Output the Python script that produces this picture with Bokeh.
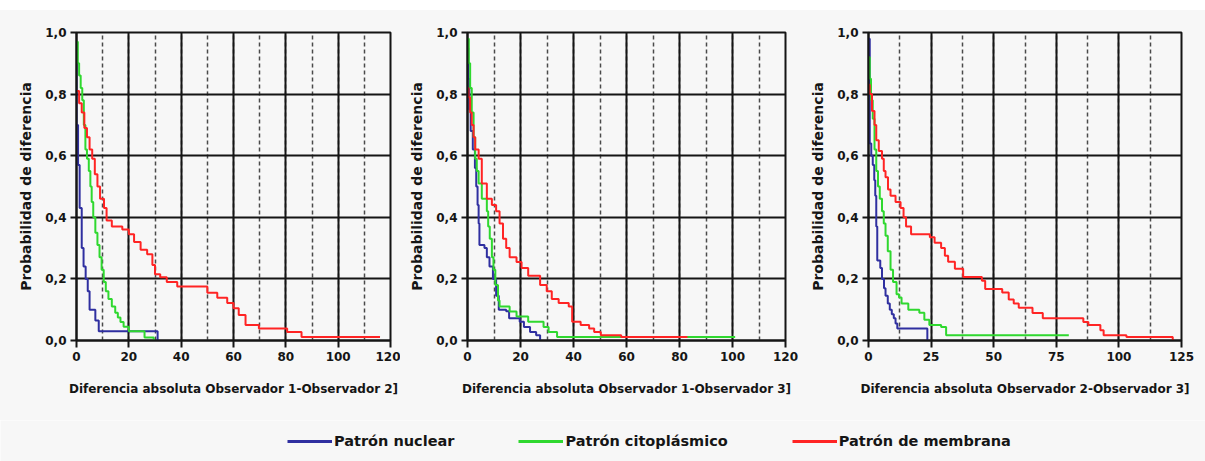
from bokeh.plotting import figure
from bokeh.models import (Range1d, SingleIntervalTicker, CustomJSTickFormatter,
                          Legend, LegendItem, Spacer)
from bokeh.layouts import row, column
from bokeh.embed import file_html
from bokeh.resources import INLINE

# ---------------- data ----------------
series_names = ["Patrón nuclear", "Patrón citoplásmico", "Patrón de membrana"]
series_colors = ["#2f2fa0", "#2fd82f", "#ff2424"]

x_titles = ["Diferencia absoluta Observador 1-Observador 2]",
            "Diferencia absoluta Observador 1-Observador 3]",
            "Diferencia absoluta Observador 2-Observador 3]"]
y_title = "Probabilidad de diferencia"
x_max = [120, 120, 125]
x_tick_step = [20, 20, 25]

# Panel 1 (Observador 1 - Observador 2)
p1_nuclear_x = [0, 0, 0.6, 1.2, 2, 2.7, 3.5, 4.3, 5, 7.2, 8.5, 31]
p1_nuclear_y = [0.97, 0.70, 0.57, 0.43, 0.30, 0.24, 0.20, 0.16, 0.10, 0.065, 0.03, 0.0]
p1_cito_x = [0, 0.5, 1, 1.6, 2.2, 2.8, 3.4, 4, 4.7, 5.3, 5.8, 6.4, 7.2, 8, 8.8, 9.6,
             10.4, 11.2, 12.2, 13.5, 14.8, 15.8, 16.8, 18, 20, 26, 29.5]
p1_cito_y = [0.97, 0.90, 0.86, 0.82, 0.78, 0.70, 0.62, 0.59, 0.55, 0.50, 0.45, 0.40, 0.35,
             0.31, 0.27, 0.23, 0.19, 0.16, 0.135, 0.11, 0.09, 0.075, 0.06, 0.045, 0.03, 0.01, 0.0]
p1_memb_x = [0, 1, 2, 3, 4, 5, 6, 7, 8, 9, 10.5, 11.5, 13.5, 17.5, 20, 22, 24.5, 27, 29, 30,
             32, 34.5, 38.5, 50, 53.8, 57.6, 60, 62, 64.6, 69.7, 80.5, 86, 116]
p1_memb_y = [0.81, 0.77, 0.74, 0.69, 0.66, 0.62, 0.59, 0.54, 0.50, 0.46, 0.43, 0.39, 0.37,
             0.36, 0.345, 0.32, 0.295, 0.28, 0.245, 0.215, 0.205, 0.19, 0.175, 0.155, 0.139,
             0.122, 0.105, 0.083, 0.05, 0.039, 0.028, 0.011, 0.011]

# Panel 2 (Observador 1 - Observador 3)
p2_nuclear_x = [0, 0.3, 0.7, 1.2, 2, 2.8, 3.3, 3.8, 4.2, 4.5, 6.4, 7.3, 8.3, 9.6, 10.8,
                11.8, 14.6, 15.7, 19.7, 21.3, 23.6, 25.9, 27.4]
p2_nuclear_y = [0.95, 0.85, 0.75, 0.68, 0.62, 0.56, 0.50, 0.44, 0.38, 0.31, 0.30, 0.27,
                0.24, 0.20, 0.145, 0.10, 0.095, 0.072, 0.061, 0.044, 0.028, 0.017, 0.0]
p2_cito_x = [0, 0.5, 1, 1.6, 2.3, 2.9, 3.5, 4.2, 5.4, 7.3, 7.8, 8.4, 9.2, 9.8, 10.5, 11.5,
             12.1, 15.9, 18.5, 22.9, 28.7, 30.6, 33.8, 101]
p2_cito_y = [0.98, 0.90, 0.82, 0.74, 0.66, 0.59, 0.55, 0.51, 0.46, 0.42, 0.37, 0.33, 0.27,
             0.23, 0.18, 0.13, 0.11, 0.094, 0.078, 0.061, 0.044, 0.028, 0.011, 0.011]
p2_memb_x = [0, 0.4, 1, 1.6, 2.3, 2.9, 4.2, 5.4, 7.3, 9.2, 10.8, 12.1, 13.4, 14.6, 15.9,
             18.5, 20.4, 22.9, 27.4, 29.9, 31.8, 34.4, 38.2, 39.5, 42.7, 45.9, 47.8, 50.3, 58, 83]
p2_memb_y = [0.82, 0.79, 0.74, 0.70, 0.66, 0.62, 0.59, 0.51, 0.46, 0.44, 0.42, 0.38, 0.33,
             0.30, 0.27, 0.255, 0.235, 0.21, 0.18, 0.16, 0.135, 0.122, 0.11, 0.061, 0.05,
             0.039, 0.028, 0.017, 0.011, 0.011]

# Panel 3 (Observador 2 - Observador 3)
p3_nuclear_x = [0, 0.5, 1.1, 1.7, 2.3, 2.7, 3.1, 3.5, 4.7, 5.4, 6.2, 6.8, 7.7, 8.5, 9.3,
                10.1, 10.8, 11.5, 23.5]
p3_nuclear_y = [0.98, 0.64, 0.60, 0.57, 0.52, 0.47, 0.37, 0.26, 0.235, 0.20, 0.17, 0.145,
                0.12, 0.10, 0.085, 0.072, 0.055, 0.039, 0.0]
p3_cito_x = [0, 0.5, 1, 1.7, 2.4, 3.1, 3.8, 4.5, 5.4, 6.1, 6.8, 7.7, 8.8, 9.8, 11.2, 12.2,
             13.2, 15.9, 20.3, 22.3, 24.3, 29, 31, 80]
p3_cito_y = [0.92, 0.85, 0.78, 0.72, 0.62, 0.55, 0.50, 0.46, 0.42, 0.38, 0.34, 0.29, 0.23,
             0.19, 0.15, 0.14, 0.12, 0.10, 0.09, 0.067, 0.05, 0.044, 0.017, 0.017]
p3_memb_x = [0, 0.5, 1.4, 2.4, 3.1, 4.1, 5.4, 6.1, 6.8, 7.8, 8.8, 10.8, 12.8, 14, 15, 17,
             24.5, 26.4, 29, 30.5, 31.8, 34.5, 37.8, 45.3, 46.6, 53.4, 56, 58, 60, 65.5,
             69.6, 85.8, 87.8, 92.6, 93.9, 103, 121.5]
p3_memb_y = [0.83, 0.80, 0.745, 0.70, 0.65, 0.615, 0.59, 0.55, 0.53, 0.49, 0.47, 0.45, 0.43,
             0.40, 0.37, 0.345, 0.335, 0.317, 0.30, 0.275, 0.256, 0.233, 0.206, 0.194, 0.167,
             0.156, 0.133, 0.12, 0.106, 0.089, 0.072, 0.06, 0.05, 0.033, 0.017, 0.011, 0.0]

panels_data = [
    [(p1_nuclear_x, p1_nuclear_y), (p1_cito_x, p1_cito_y), (p1_memb_x, p1_memb_y)],
    [(p2_nuclear_x, p2_nuclear_y), (p2_cito_x, p2_cito_y), (p2_memb_x, p2_memb_y)],
    [(p3_nuclear_x, p3_nuclear_y), (p3_cito_x, p3_cito_y), (p3_memb_x, p3_memb_y)],
]

# ---------------- style ----------------
BG = "#f7f7f7"
INK = "#151515"
FONT = "DejaVu Sans"
# (left border, frame width, right border)
geom = [(66, 314, 10), (67, 318, 15), (68, 313, 24)]
TOP, FRAME_H, BOTTOM = 22, 308, 80

fmt = CustomJSTickFormatter(code="return tick.toFixed(1).replace('.', ',');")


def make_panel(i):
    left, fw, right = geom[i]
    p = figure(width=left + fw + right, height=TOP + FRAME_H + BOTTOM,
               x_range=Range1d(0, x_max[i]), y_range=Range1d(0, 1.0),
               output_backend="svg", toolbar_location=None,
               min_border_left=left, min_border_right=right,
               min_border_top=TOP, min_border_bottom=BOTTOM)
    p.background_fill_color = BG
    p.border_fill_color = BG
    p.outline_line_color = INK
    p.outline_line_width = 2

    p.xaxis.ticker = SingleIntervalTicker(interval=x_tick_step[i], num_minor_ticks=2)
    p.yaxis.ticker = SingleIntervalTicker(interval=0.2, num_minor_ticks=0)
    p.yaxis.formatter = fmt

    for ax in (p.xaxis[0], p.yaxis[0]):
        ax.axis_line_color = INK
        ax.axis_line_width = 2
        ax.major_tick_line_color = INK
        ax.major_tick_line_width = 2
        ax.major_tick_in = 0
        ax.minor_tick_line_color = None
        ax.major_label_text_font = FONT
        ax.major_label_text_font_style = "bold"
        ax.major_label_text_font_size = "12px"
        ax.major_label_text_color = INK
        ax.axis_label_text_font = FONT
        ax.axis_label_text_font_style = "bold"
        ax.axis_label_text_color = INK

    p.xaxis.major_tick_out = 7
    p.xaxis.major_label_standoff = 4
    p.xaxis.axis_label = x_titles[i]
    p.xaxis.axis_label_text_font_size = "12px"
    p.xaxis.axis_label_standoff = 18

    p.yaxis.major_tick_out = 6
    p.yaxis.major_label_standoff = 4
    p.yaxis.axis_label = y_title
    p.yaxis.axis_label_text_font_size = "14px"
    p.yaxis.axis_label_standoff = 8

    p.xgrid.grid_line_color = INK
    p.xgrid.grid_line_width = 2
    p.xgrid.minor_grid_line_color = "#4a4a4a"
    p.xgrid.minor_grid_line_width = 1.5
    p.xgrid.minor_grid_line_dash = "4 3"
    p.ygrid.grid_line_color = INK
    p.ygrid.grid_line_width = 2

    for (xs, ys), col in zip(panels_data[i], series_colors):
        p.step(x=xs, y=ys, mode="after", line_color=col, line_width=2)
    return p


panels = [make_panel(i) for i in range(3)]

# ---------------- legend strip ----------------
lg = figure(width=1205, height=41, x_range=Range1d(0, 1), y_range=Range1d(0, 1),
            output_backend="svg", toolbar_location=None,
            min_border_left=0, min_border_right=0, min_border_top=0, min_border_bottom=0)
lg.axis.visible = False
lg.grid.visible = False
lg.outline_line_color = None
lg.background_fill_color = BG
lg.border_fill_color = BG
items = []
for name, col in zip(series_names, series_colors):
    # placeholder renderer (kept outside the visible range) that only feeds the legend
    r = lg.line(x=[-3, -2], y=[-3, -2], line_color=col, line_width=3)
    items.append(LegendItem(label=name, renderers=[r]))
legend = Legend(items=items, orientation="horizontal", location=(287, 10),
                glyph_width=45, glyph_height=20, label_standoff=2, spacing=64,
                padding=0, margin=0, border_line_color=None,
                background_fill_alpha=0,
                label_text_font=FONT, label_text_font_style="bold",
                label_text_font_size="14.5px", label_text_color=INK)
lg.add_layout(legend)

panel_row = row(Spacer(width=10, height=410), *panels,
                styles={"background-color": BG})
layout = column(Spacer(width=1205, height=10), panel_row, lg)

open("out.html", "w").write(file_html(layout, INLINE))
